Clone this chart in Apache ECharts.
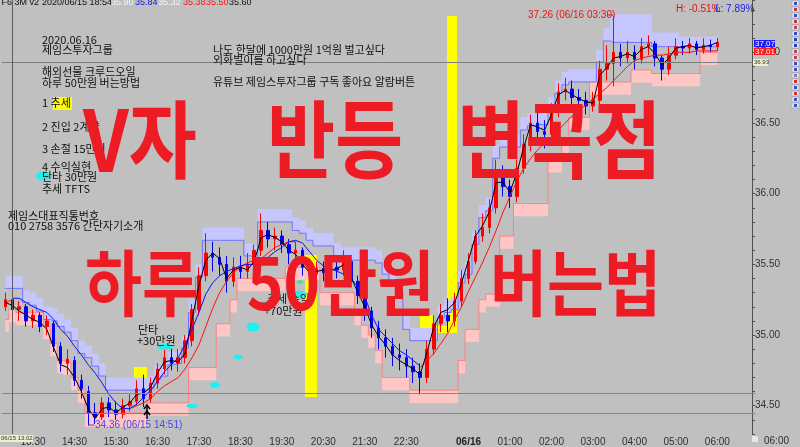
<!DOCTYPE html>
<html><head><meta charset="utf-8">
<script src="https://cdn.jsdelivr.net/npm/echarts@6.0.0/dist/echarts.min.js"></script>
<style>html,body{margin:0;padding:0;background:#c0c0c0;overflow:hidden}#c{width:800px;height:447px}</style>
</head><body><div id="c"></div>
<script>
// ---------- DATA ----------
const categories = [
'12:50',
'13:00','13:10','13:20','13:30','13:40','13:50',
'14:00','14:10','14:20','14:30','14:40','14:50',
'15:00','15:10','15:20','15:30','15:40','15:50',
'16:00','16:10','16:20','16:30','16:40','16:50',
'17:00','17:10','17:20','17:30','17:40','17:50',
'18:00','18:10','18:20','18:30','18:40','18:50',
'19:00','19:10','19:20','19:30','19:40','19:50',
'20:00','20:10','20:20','20:30','20:40','20:50',
'21:00','21:10','21:20','21:30','21:40','21:50',
'22:00','22:10','22:20','22:30','22:40','22:50',
'23:00','23:10','23:20','23:30','23:40','23:50',
'00:00','00:10','00:20','00:30','00:40','00:50',
'01:00','01:10','01:20','01:30','01:40','01:50',
'02:00','02:10','02:20','02:30','02:40','02:50',
'03:00','03:10','03:20','03:30','03:40','03:50',
'04:00','04:10','04:20','04:30','04:40','04:50',
'05:00','05:10','05:20','05:30','05:40','05:50',
'06:00','06:10','06:20','06:30','06:40','06:50'];
const tickLabels = ['13:30','14:30','15:30','16:30','17:30','18:30','19:30','20:30','21:30','22:30',
  '00:00','01:00','02:00','03:00','04:00','05:00','06:00'];
const dateLabel = {'00:00':'06/16'};

const opens = [
35.20,35.25,35.18,35.20,35.10,35.14,35.06,35.08,34.92,34.80,
34.82,34.68,34.60,34.45,34.42,34.52,34.47,34.44,34.50,34.53,
34.62,34.55,34.66,34.76,34.84,34.80,34.84,34.96,35.18,35.42,
35.58,35.55,35.50,35.38,35.48,35.45,35.50,35.60,35.74,35.68,
35.70,35.64,35.58,35.60,35.48,35.43,35.47,35.44,35.48,35.46,
35.52,35.38,35.28,35.17,35.05,34.98,34.92,34.86,34.84,34.78,
34.74,34.70,34.90,35.08,35.14,35.10,35.24,35.40,35.52,35.70,
35.76,35.90,36.12,36.05,35.98,36.18,36.35,36.50,36.44,36.42,
36.58,36.72,36.74,36.68,36.66,36.62,36.66,36.88,36.92,37.00,
36.96,37.00,36.95,37.04,37.06,36.96,36.88,36.98,37.04,37.03,
37.06,37.02,37.05,37.04];
const closes = [
35.25,35.18,35.20,35.10,35.14,35.06,35.10,34.92,34.80,34.83,
34.68,34.62,34.45,34.42,34.52,34.47,34.44,34.50,34.53,34.62,
34.55,34.66,34.76,34.84,34.80,34.84,34.96,35.18,35.42,35.58,
35.55,35.50,35.38,35.48,35.45,35.50,35.60,35.74,35.68,35.70,
35.64,35.58,35.60,35.48,35.43,35.47,35.44,35.48,35.46,35.52,
35.38,35.28,35.17,35.05,34.98,34.92,34.86,34.84,34.78,34.74,
34.70,34.90,35.08,35.14,35.10,35.24,35.40,35.52,35.70,35.76,
35.90,36.12,36.05,35.98,36.18,36.35,36.50,36.44,36.42,36.58,
36.72,36.74,36.68,36.66,36.62,36.66,36.88,36.92,37.00,36.96,
37.00,36.95,37.04,37.06,36.96,36.88,36.98,37.04,37.03,37.06,
37.02,37.05,37.04,37.07];
const lows = [
35.17,35.15,35.10,35.06,35.05,35.02,35.00,34.88,34.74,34.72,
34.64,34.55,34.36,34.37,34.40,34.42,34.40,34.41,34.46,34.50,
34.49,34.52,34.62,34.72,34.75,34.74,34.80,34.92,35.14,35.38,
35.45,35.42,35.30,35.34,35.40,35.40,35.46,35.56,35.62,35.60,
35.58,35.50,35.48,35.42,35.36,35.38,35.38,35.40,35.40,35.42,
35.34,35.22,35.10,34.98,34.90,34.84,34.78,34.75,34.70,34.66,
34.58,34.66,34.86,35.02,35.02,35.06,35.20,35.36,35.50,35.66,
35.72,35.86,35.98,35.90,35.94,36.14,36.30,36.38,36.32,36.38,
36.54,36.66,36.60,36.58,36.56,36.58,36.62,36.80,36.76,36.90,
36.92,36.88,36.92,36.98,36.90,36.80,36.84,36.95,36.98,36.99,
36.98,36.99,37.00,37.01];
const highs = [
35.30,35.28,35.24,35.22,35.18,35.16,35.14,35.10,34.95,34.90,
34.85,34.72,34.64,34.52,34.56,34.56,34.53,34.55,34.58,34.68,
34.72,34.70,34.80,34.90,34.92,34.90,35.00,35.22,35.48,35.72,
35.66,35.62,35.56,35.55,35.56,35.58,35.64,35.86,35.80,35.76,
35.74,35.68,35.66,35.62,35.54,35.52,35.52,35.53,35.52,35.60,
35.55,35.42,35.32,35.20,35.10,35.04,34.98,34.94,34.90,34.84,
34.80,34.96,35.14,35.22,35.26,35.30,35.46,35.58,35.74,35.86,
35.96,36.24,36.20,36.10,36.24,36.42,36.56,36.58,36.52,36.64,
36.78,36.82,36.80,36.74,36.72,36.72,36.94,37.05,37.26,37.06,
37.08,37.05,37.10,37.12,37.08,36.98,37.04,37.10,37.08,37.10,
37.08,37.10,37.09,37.10];

const maFast = [
35.23,35.21,35.17,35.14,35.11,35.09,35.04,34.91,34.79,34.77,
34.70,34.60,34.48,34.41,34.48,34.49,34.45,34.49,34.52,34.58,
34.59,34.63,34.73,34.81,34.82,34.81,34.87,35.11,35.35,35.53,
35.58,35.54,35.40,35.46,35.48,35.46,35.52,35.69,35.71,35.69,
35.66,35.60,35.57,35.50,35.44,35.45,35.46,35.46,35.47,35.50,
35.41,35.30,35.20,35.07,34.99,34.93,34.86,34.82,34.79,34.76,
34.72,34.88,35.06,35.16,35.18,35.23,35.37,35.53,35.70,35.77,
35.87,36.08,36.08,36.01,36.15,36.33,36.49,36.47,36.45,36.56,
36.70,36.73,36.70,36.67,36.65,36.64,36.84,36.89,36.96,36.97,
36.99,36.97,37.02,37.04,36.99,36.91,36.96,37.03,37.04,37.05,
37.03,37.04,37.05,37.07];
const maMid = [
null,35.26,35.26,35.23,35.20,35.18,35.16,35.11,35.04,34.99,
34.92,34.86,34.79,34.73,34.66,34.58,34.52,34.48,34.48,34.51,
34.56,34.61,34.67,34.74,34.79,34.84,34.93,35.04,35.16,35.29,
35.37,35.42,35.45,35.47,35.49,35.50,35.50,35.52,35.55,35.59,
35.62,35.66,35.67,35.65,35.59,35.53,35.49,35.47,35.45,35.43,
35.40,35.34,35.27,35.14,35.04,34.99,34.94,34.89,34.86,34.82,
34.78];
const maSlow = [
35.23,35.25,null,null,null,null,null,null,null,null,
null,null,null,null,null,null,null,null,34.48,34.50,
34.52,34.55,34.60,34.64,34.67,34.70,34.76,34.84,34.93,35.06,
35.19,35.30,35.38,35.44,35.48,35.51,35.53,35.54,35.58,35.62,
35.64,35.66,35.66,null,null,null,null,null,null,null,
null,null,null,null,null,null,null,null,null,null,
34.77,34.82,34.87,34.94,35.01,35.11,35.20,35.31,35.41,35.51,
35.62,35.74,35.87,35.98,36.09,36.18,36.25,36.31,36.36,36.40,
36.45,36.50,36.55,36.59,36.63,36.67,36.71,36.75,36.80,36.85,
36.90,36.94,36.96,36.97,36.98,36.98,36.99,37.00,37.00,37.00,
37.01,37.01,37.01,37.01];

const upperTop = [
35.42,35.42,35.42,35.32,35.30,35.26,35.20,35.19,35.15,35.11,
35.05,34.96,34.93,34.87,34.80,34.70,34.70,34.70,34.70,34.70,
34.70,34.71,34.78,34.80,34.88,34.89,35.00,35.25,35.50,35.76,
35.76,35.76,35.76,35.76,35.76,35.65,35.64,35.89,35.89,35.89,
35.89,35.89,35.83,35.81,35.76,35.72,35.72,35.72,35.65,35.62,
35.62,35.62,35.62,35.62,35.60,35.52,35.45,35.39,35.13,35.05,
35.05,35.05,35.05,35.21,35.25,35.27,35.46,35.52,35.73,35.92,
35.97,36.34,36.42,36.42,36.42,36.54,36.57,36.58,36.58,36.68,
36.80,36.86,36.88,36.88,36.88,36.88,37.02,37.17,37.27,37.27,
37.27,37.27,37.27,37.27,37.14,37.14,37.14,37.14,37.11,37.11,
37.11,37.11,37.11,37.11];
const upperBottom = [
35.33,35.33,35.33,35.23,35.21,35.17,35.11,35.10,35.06,35.02,
34.96,34.87,34.84,34.78,34.71,34.61,34.61,34.61,34.61,34.61,
34.61,34.62,34.69,34.71,34.79,34.80,34.91,35.16,35.41,35.67,
35.67,35.67,35.67,35.67,35.67,35.56,35.55,35.80,35.80,35.80,
35.80,35.80,35.74,35.72,35.67,35.63,35.63,35.63,35.56,35.53,
35.53,35.53,35.53,35.53,35.51,35.43,35.36,35.30,35.04,34.96,
34.96,34.96,34.96,35.12,35.16,35.18,35.37,35.43,35.64,35.83,
35.88,36.25,36.33,36.33,36.33,36.45,36.48,36.49,36.49,36.59,
36.71,36.77,36.79,36.79,36.79,36.79,36.93,37.08,37.07,37.07,
37.07,37.07,37.07,37.07,37.04,37.04,37.04,37.04,37.04,37.04,
37.04,37.04,37.04,37.04];
const lowerTop = [
35.11,35.18,35.16,35.16,35.16,35.16,35.06,34.94,34.82,34.81,
34.70,34.61,34.45,34.45,34.45,34.45,34.45,34.45,34.45,34.45,
34.45,34.52,34.52,34.52,34.52,34.52,34.52,34.77,34.77,34.77,
34.77,35.08,35.08,35.25,35.40,35.40,35.40,35.40,35.40,35.40,
35.40,35.48,35.48,35.48,35.48,35.48,35.30,35.30,35.30,35.30,
35.30,35.16,35.07,35.00,34.89,34.70,34.70,34.70,34.70,34.61,
34.61,34.61,34.61,34.61,34.61,34.61,34.82,35.04,35.04,35.25,
35.29,35.29,35.70,35.70,35.93,35.93,35.93,35.93,35.93,36.24,
36.24,36.38,36.54,36.54,36.54,36.79,36.79,36.79,36.79,36.79,
36.79,36.875,36.875,36.875,36.85,36.85,36.85,36.85,36.85,36.85,
36.85,37.00,37.00,37.00];
const lowerBottom = [
35.02,35.09,35.07,35.07,35.07,35.07,34.97,34.85,34.73,34.72,
34.61,34.52,34.35,34.35,34.35,34.35,34.35,34.35,34.35,34.35,
34.35,34.43,34.43,34.43,34.43,34.43,34.43,34.68,34.68,34.68,
34.68,34.99,34.99,35.16,35.31,35.31,35.31,35.31,35.31,35.31,
35.31,35.39,35.39,35.39,35.39,35.39,35.21,35.21,35.21,35.21,
35.21,35.07,34.98,34.91,34.80,34.61,34.61,34.61,34.61,34.52,
34.52,34.52,34.52,34.52,34.52,34.52,34.73,34.95,34.95,35.16,
35.20,35.20,35.61,35.61,35.84,35.84,35.84,35.84,35.84,36.15,
36.15,36.29,36.45,36.45,36.45,36.70,36.70,36.70,36.70,36.70,
36.70,36.785,36.785,36.785,36.76,36.76,36.76,36.76,36.76,36.76,
36.76,36.91,36.91,36.91];

const levels = [34.589, 34.448];          // green horizontal levels
const cursorPrice = 36.93, cursorTime = '13:00';

// ---------- BUILD ----------
const candleData = opens.map((o, i) => [o, closes[i], lows[i], highs[i]]);
const upperDiff = upperTop.map((v, i) => +(v - upperBottom[i]).toFixed(3));
const lowerDiff = lowerTop.map((v, i) => +(v - lowerBottom[i]).toFixed(3));

const KR = '"Noto Sans CJK KR", "Noto Sans", sans-serif';
const LAT = '"Liberation Sans", Arial, sans-serif';

function txt(x, y, s, opt) {
  opt = opt || {};
  return {type:'text', x:x, y:y, z: opt.z || 20, silent:true,
    scaleY: opt.scaleY || 1,
    style:{text:s, fill: opt.color || '#101010',
      font: opt.font || ('11px ' + KR),
      textAlign: opt.align || 'left', align: opt.align || 'left',
      textVerticalAlign: opt.va || 'middle', verticalAlign: opt.va || 'middle'}};
}
function rect(x, y, w, h, fill, z) {
  return {type:'rect', z: z || 1, silent:true, shape:{x:x, y:y, width:w, height:h}, style:{fill:fill}};
}
function ell(cx, cy, rx, ry, fill) {
  return {type:'ellipse', z: 15, silent:true, shape:{cx:cx, cy:cy, rx:rx, ry:ry}, style:{fill: fill || '#1cf0f0'}};
}
const HF = '9px ' + LAT;

const graphics = [
  // yellow drawings
  rect(447, 16, 10, 316, '#ffff00'),
  rect(420, 315, 14, 15, '#ffff00'),
  rect(433, 326, 24, 7, '#ffff00'),
  rect(305, 255, 12, 142, '#ffff00'),
  rect(134, 367, 13, 14, '#ffff00'),
  rect(53, 97, 19, 13, '#ffff00', 19),
  // cyan marks
  ell(43, 176, 7, 4.5), ell(165, 347, 8, 3), ell(253, 327, 6.5, 4.5), ell(238, 357, 4.5, 2.5),
  ell(215, 385, 5, 3), ell(192, 406, 6, 2), ell(300, 294, 7, 3), ell(265, 304, 5, 2.5),
  ell(300, 282, 3, 2, '#40e0a0'),
  // header
  txt(-4, 3, 'TF6 3M v2', {font:HF, color:'#101010'}),
  txt(42, 3, '2020/06/15 18:54', {font:HF, color:'#101010'}),
  txt(111, 3, '35.90', {font:HF, color:'#f4f4f4'}),
  txt(135, 3, '35.84', {font:HF, color:'#1010ff'}),
  txt(158, 3, '35.32', {font:HF, color:'#f4f4f4'}),
  txt(183, 3, '35.38', {font:HF, color:'#ff1010'}),
  txt(206, 3, '35.50', {font:HF, color:'#ff1010'}),
  txt(229, 3, '35.60', {font:HF, color:'#101010'}),
  txt(676, 9, 'H: -0.51%', {font:'10px ' + LAT, color:'#e01010'}),
  txt(715, 9, 'L: 7.89%', {font:'10px ' + LAT, color:'#2020e0'}),
  txt(528, 15, '37.26 (06/16 03:30)', {font:'10px ' + LAT, color:'#e01818'}),
  {type:'line', z:20, silent:true, shape:{x1:607, y1:15, x2:613, y2:15}, style:{stroke:'#e01818', lineWidth:1}},
  txt(95, 425, '34.36 (06/15 14:51)', {font:'10px ' + LAT, color:'#4848e8'}),
  {type:'line', z:20, silent:true, shape:{x1:88, y1:425, x2:94, y2:425}, style:{stroke:'#4848e8', lineWidth:1}},
  // left notes
  txt(42, 40, '2020.06.16'),
  txt(42, 50, '제임스투자그룹'),
  txt(42, 72, '해외선물 크루드오일'),
  txt(42, 83, '하루 50만원 버는방법'),
  txt(42, 103, '1 추세'),
  txt(42, 127, '2 진입 2계약'),
  txt(42, 149, '3 손절 15만원'),
  txt(42, 167, '4 수익실현'),
  txt(42, 177, '단타 30만원'),
  txt(42, 189, '추세 TFTS'),
  txt(8, 216, '제임스대표직통번호'),
  txt(8, 226, '010 2758 3576 간단자기소개'),
  txt(213, 50, '나도 한달에 1000만원 1억원 벌고싶다'),
  txt(213, 60, '외화벌이를 하고싶다'),
  txt(213, 82, '유튜브 제임스투자그룹 구독 좋아요 알람버튼'),
  txt(138, 330, '단타'),
  txt(137, 341, '+30만원'),
  txt(267, 299, '추세 수익'),
  txt(264, 311, '+70만원'),
  // arrow marker
  {type:'polyline', z:20, silent:true, shape:{points:[[147,405],[147,419]]}, style:{stroke:'#000', lineWidth:1.5}},
  {type:'polyline', z:20, silent:true, shape:{points:[[144,409],[147,405],[150,409]]}, style:{stroke:'#000', fill:'none', lineWidth:1.5}},
  {type:'polyline', z:20, silent:true, shape:{points:[[144,415],[147,411],[150,415]]}, style:{stroke:'#000', fill:'none', lineWidth:1.5}},
  // big red captions
  txt(83, 97, 'V자', {font:'bold 74px ' + KR, color:'#ed1c24', va:'top', scaleY:1.15, z:40}),
  txt(267, 97, '반등', {font:'bold 74px ' + KR, color:'#ed1c24', va:'top', scaleY:1.15, z:40}),
  txt(457, 97, '변곡점', {font:'bold 74px ' + KR, color:'#ed1c24', va:'top', scaleY:1.15, z:40}),
  txt(85, 247, '하루', {font:'bold 62px ' + KR, color:'#ed1c24', va:'top', scaleY:1.15, z:40}),
  txt(247, 247, '50만원', {font:'bold 62px ' + KR, color:'#ed1c24', va:'top', scaleY:1.15, z:40}),
  txt(490, 247, '버는법', {font:'bold 62px ' + KR, color:'#ed1c24', va:'top', scaleY:1.15, z:40}),
  // right price tags
  rect(754, 40, 21, 7, '#1a1aff', 30),
  txt(755, 43.5, '37.07', {font:'8px ' + LAT, color:'#ffffff', z:31}),
  rect(754, 48, 21, 7, '#ff1a1a', 30),
  txt(755, 51.5, '37.01', {font:'8px ' + LAT, color:'#ffffff', z:31}),
  rect(753, 59, 15, 7, '#f0f0c8', 30),
  txt(754, 62.5, '36.93', {font:'6px ' + LAT, color:'#303030', z:31}),
  rect(0, 435, 33, 7, '#f0f0c8', 30),
  txt(1, 438.5, '06/15 13:02', {font:'6px ' + LAT, color:'#303030', z:31}),
  rect(752, 436, 6, 6, '#e8e8e8', 30),
  txt(764, 441, '06:00', {font:'10px ' + LAT, color:'#303030', z:31})
];
// right toolbar column
const toolColors = ['#3050d0','#d03030','#3050d0','#d03030','#d04040','#3050d0','#2040c0','#2040c0','#d04040','#d04040','#3050d0','#3050d0','#8080a0','#d03030','#3050d0','#d03030','#3050d0','#3050d0'];
toolColors.forEach((c, k) => {
  graphics.push({type:'rect', z:30, silent:true, shape:{x:792, y:1 + k * 6, width:7, height:5}, style:{fill:'#e6e6f2', stroke:'#9898b0', lineWidth:0.5}});
  graphics.push({type:'rect', z:31, silent:true, shape:{x:794, y:2 + k * 6, width:3, height:3}, style:{fill:c}});
});

const bandLine = (name, data, stack, extra) => Object.assign({
  name:name, type:'line', data:data, stack:stack, step:'middle', symbol:'none', silent:true,
  lineStyle:{opacity:0, width:0}, z:2
}, extra || {});

const option = {
  animation:false,
  backgroundColor:'#c0c0c0',
  grid:{left:1.9, right:44.6, top:0, bottom:13, containLabel:false, outerBoundsMode:'none'},
  xAxis:{type:'category', data:categories, boundaryGap:true,
    axisLine:{show:false}, axisTick:{show:false}, splitLine:{show:false},
    axisLabel:{interval:(idx, v) => tickLabels.indexOf(v) >= 0,
      formatter:v => dateLabel[v] ? '{b|' + dateLabel[v] + '}' : v,
      color:'#303030', fontSize:10, fontFamily:'Liberation Sans', margin:3,
      rich:{b:{fontWeight:'bold', fontSize:10, color:'#202020', fontFamily:'Liberation Sans'}}}},
  yAxis:{type:'value', position:'right', min:34.3, max:37.37, interval:0.1, offset:-3.4,
    axisLine:{show:true, lineStyle:{color:'#505050', width:1}},
    axisTick:{show:true, length:3, lineStyle:{color:'#505050'}},
    splitLine:{show:false},
    axisLabel:{margin:3, color:'#303030', fontSize:10, fontFamily:'Liberation Sans',
      formatter:v => (Math.round(v * 10) % 5 === 0 && Math.abs(v * 10 - Math.round(v * 10)) < 1e-6) ? v.toFixed(2) : ''}},
  series:[
    bandLine('ub', upperBottom, 'up'),
    bandLine('ud', upperDiff, 'up', {areaStyle:{color:'#c6c6ff', opacity:1}}),
    bandLine('lb', lowerBottom, 'lo'),
    bandLine('ld', lowerDiff, 'lo', {areaStyle:{color:'#ffc6c6', opacity:1}}),
    {type:'line', data:upperBottom, step:'middle', symbol:'none', silent:true, z:2,
      lineStyle:{color:'#7070ff', width:1}},
    {type:'line', data:lowerTop, step:'middle', symbol:'none', silent:true, z:2,
      lineStyle:{color:'#ff8080', width:1}},
    {type:'candlestick', data:candleData, barWidth:3, z:3, silent:true,
      itemStyle:{color:'#ff0000', color0:'#0000ff', borderColor:'#ff0000', borderColor0:'#0000ff', borderWidth:1},
      markLine:{symbol:'none', silent:true, label:{show:false}, animation:false,
        data:[
          {yAxis:levels[0], lineStyle:{color:'#5aa07e', width:1, type:'solid'}},
          {yAxis:levels[1], lineStyle:{color:'#5aa07e', width:1, type:'solid'}},
          {yAxis:cursorPrice, lineStyle:{color:'#7c7c7c', width:1, type:'solid'}},
          {xAxis:cursorTime, lineStyle:{color:'#5c5c5c', width:1, type:'solid'}}
        ]}},
    {type:'line', data:maSlow, symbol:'none', silent:true, z:4, connectNulls:false,
      lineStyle:{color:'#ff1010', width:1}},
    {type:'line', data:maMid, symbol:'none', silent:true, z:4,
      lineStyle:{color:'#1010ff', width:1}},
    {type:'line', data:maFast, symbol:'none', silent:true, z:4,
      lineStyle:{color:'#000000', width:1}}
  ],
  graphic:{elements:graphics}
};

const chart = echarts.init(document.getElementById('c'), null, {renderer:'canvas'});
chart.setOption(option);
</script>
</body></html>
